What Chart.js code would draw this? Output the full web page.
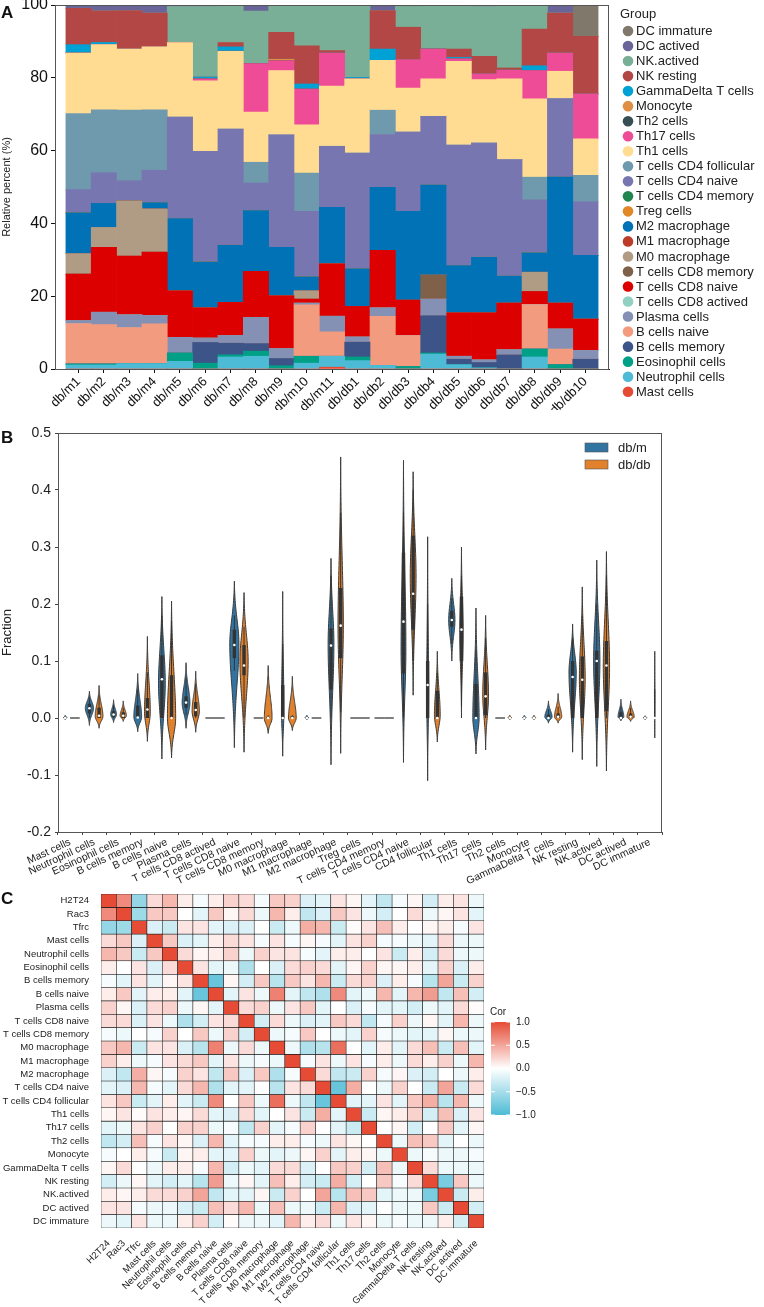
<!DOCTYPE html>
<html>
<head>
<meta charset="utf-8">
<script src="https://cdn.jsdelivr.net/npm/chart.js@4.4.1/dist/chart.umd.min.js"></script>
<style>
  body { margin: 0; background: #fff; width: 764px; height: 1307px; position: relative; overflow: hidden; font-family: "Liberation Sans", Arial, sans-serif; }
  canvas { position: absolute; left: 0; }
  .tag { position: absolute; left: 1px; font-weight: bold; font-size: 17px; color: #111; z-index: 5; }
</style>
</head>
<body>
<div class="tag" style="top:3px">A</div>
<div class="tag" style="top:428px">B</div>
<div class="tag" style="top:889px">C</div>
<canvas id="chartA" width="764" height="410" style="top:0;width:764px;height:410px"></canvas>
<canvas id="chartB" width="764" height="500" style="top:400px;width:764px;height:500px"></canvas>
<canvas id="chartC" width="764" height="427" style="top:880px;width:764px;height:427px"></canvas>
<script>
Chart.defaults.font.family = '"Liberation Sans", Arial, sans-serif';
Chart.defaults.color = '#1a1a1a';

// ---------- panel A: relative percent per sample ----------
const samples = ['db/m1', 'db/m2', 'db/m3', 'db/m4', 'db/m5', 'db/m6', 'db/m7', 'db/m8', 'db/m9', 'db/m10', 'db/m11',
  'db/db1', 'db/db2', 'db/db3', 'db/db4', 'db/db5', 'db/db6', 'db/db7', 'db/db8', 'db/db9', 'db/db10'];

// stacking order, bottom to top
const groupNames = ['Mast cells', 'Neutrophil cells', 'Eosinophil cells', 'B cells memory', 'B cells naive', 'Plasma cells',
  'T cells CD8 actived', 'T cells CD8 naive', 'T cells CD8 memory', 'M0 macrophage', 'M1 macrophage', 'M2 macrophage',
  'Treg cells', 'T cells CD4 memory', 'T cells CD4 naive', 'T cells CD4 follicular', 'Th1 cells', 'Th17 cells', 'Th2 cells',
  'Monocyte', 'GammaDelta T cells', 'NK resting', 'NK.actived', 'DC actived', 'DC immature'];
const groupColors = ['#E64B35', '#4DBBD5', '#00A087', '#3C5488', '#F39B7F', '#8491B4', '#91D1C2', '#DC0000', '#7E6148',
  '#B09C85', '#BC3C29', '#0072B5', '#E18727', '#20854E', '#7876B1', '#6F99AD', '#FFDC91', '#EE4C97', '#374E55',
  '#DF8F44', '#00A1D5', '#B24745', '#79AF97', '#6A6599', '#80796B'];

const mast       = [0, 0, 0, 0, 0, 0, 0, 0, 0, 0, 0.5, 0, 0, 0, 0, 0, 0, 0, 0, 0, 0];
const neutrophil = [1.1, 1.1, 1.5, 1.5, 2.1, 0, 3.3, 3.5, 0, 1.6, 3.0, 2.3, 1.0, 0, 4.1, 1.2, 0.3, 0, 3.3, 0, 0];
const eosinophil = [0.3, 0.3, 0, 0, 2.3, 1.6, 0.6, 1.4, 0.9, 1.9, 0, 1.0, 0, 0.7, 0.3, 0, 0, 0, 2.2, 1.2, 0];
const bMemory    = [0, 0, 0, 0, 0, 5.7, 3.2, 2.1, 2.0, 0, 0, 4.1, 0, 0, 10.3, 1.5, 1.5, 3.9, 0, 0, 2.7];
const bNaive     = [11.1, 10.8, 9.9, 10.9, 0, 0, 0, 0, 0, 14.1, 6.7, 0, 13.5, 8.5, 0, 0, 0, 0, 12.2, 4.3, 0];
const plasma     = [0.8, 3.4, 3.5, 2.3, 4.3, 1.2, 2.1, 7.2, 2.7, 0.5, 4.3, 1.4, 2.3, 0, 4.5, 0.8, 0.7, 1.4, 0, 5.5, 2.4];
const cd8Actived = [0, 0, 0, 0, 0, 0, 0, 0, 0, 0, 0, 0, 0, 0, 0, 0, 0, 0, 0, 0, 0];
const cd8Naive   = [12.8, 17.8, 16.1, 17.4, 12.8, 8.3, 9.1, 12.6, 14.5, 1.1, 14.4, 8.4, 15.8, 9.7, 0, 11.9, 12.9, 12.8, 3.6, 7.1, 8.6];
const cd8Memory  = [0, 0, 0, 0, 0, 0, 0, 0, 0, 0, 0, 0, 0, 0, 6.6, 0, 0, 0, 0, 0, 0];
const m0         = [5.6, 5.5, 15.2, 11.9, 0, 0, 0, 0, 0, 2.3, 0, 0, 0, 0, 0, 0, 0, 0, 5.3, 0, 0];
const m1         = [0, 0, 0, 0, 0, 0, 0, 0, 0, 0, 0, 0, 0, 0, 0, 0, 0, 0, 0, 0, 0];
const m2         = [11.2, 6.6, 0, 1.7, 19.8, 12.6, 15.7, 16.7, 13.3, 3.8, 15.5, 10.3, 17.3, 24.4, 24.7, 13.0, 15.3, 7.4, 5.3, 34.6, 17.5];
const treg       = [0, 0, 0, 0, 0, 0, 0, 0, 0, 0, 0, 0, 0, 0, 0, 0, 0, 0, 0, 0, 0];
const cd4Memory  = [0, 0, 0, 0, 0, 0, 0, 0, 0, 0, 0, 0, 0, 0, 0, 0, 0, 0, 0, 0, 0];
const cd4Naive   = [6.4, 8.4, 5.5, 8.9, 27.9, 30.4, 31.9, 7.6, 30.9, 18.0, 16.8, 31.8, 14.5, 21.8, 18.9, 33.1, 31.4, 32.0, 14.6, 21.6, 14.7];
const cd4Foll    = [20.9, 17.3, 19.4, 16.6, 0, 0, 0, 5.7, 0, 10.5, 0, 0, 6.7, 0, 0, 0, 0, 0, 6.2, 0, 7.3];
const th1        = [16.6, 17.9, 16.8, 17.3, 20.5, 19.4, 21.4, 13.8, 17.7, 13.3, 16.5, 20.4, 13.7, 12.1, 10.3, 23.0, 17.4, 22.2, 21.5, 7.5, 10.0];
const th17       = [0, 0, 0, 0, 0, 0.5, 0, 13.3, 2.7, 9.8, 9.1, 0, 0, 7.8, 8.2, 0.7, 1.6, 2.4, 7.8, 5.0, 12.4];
const th2        = [0, 0, 0, 0, 0, 0, 0, 0, 0, 0, 0, 0, 0, 0, 0, 0, 0, 0, 0, 0, 0];
const monocyte   = [0, 0, 0, 0, 0, 0, 0, 0, 0.4, 0, 0, 0, 0, 0, 0, 0, 0, 0, 0, 0, 0];
const gammaDelta = [2.3, 0.6, 0, 0, 0, 0.5, 1.2, 0, 0, 1.4, 0, 0.4, 3.1, 0, 0, 0.4, 0, 0, 1.3, 0, 0];
const nkResting  = [10.0, 8.7, 10.6, 9.3, 0, 0, 1.2, 0, 7.4, 10.5, 0.7, 0, 10.6, 8.9, 0, 2.3, 4.8, 0.6, 10.1, 11.0, 15.8];
const nkActived  = [0, 0, 0, 0, 9.9, 19.4, 10.3, 14.4, 7.5, 11.2, 12.5, 19.9, 0, 5.7, 12.1, 12.1, 13.7, 17.3, 6.6, 0, 0];
const dcActived  = [0.9, 1.6, 1.5, 2.2, 0.4, 0.4, 0, 1.7, 0, 0, 0, 0, 1.5, 0.4, 0, 0, 0.4, 0, 0, 2.2, 0];
const dcImmature = [0, 0, 0, 0, 0, 0, 0, 0, 0, 0, 0, 0, 0, 0, 0, 0, 0, 0, 0, 0, 8.6];

const groupValues = [mast, neutrophil, eosinophil, bMemory, bNaive, plasma, cd8Actived, cd8Naive, cd8Memory, m0, m1, m2,
  treg, cd4Memory, cd4Naive, cd4Foll, th1, th17, th2, monocyte, gammaDelta, nkResting, nkActived, dcActived, dcImmature];

// ---------- panel B: fraction per cell type ----------
const cellTypes = ['Mast cells', 'Neutrophil cells', 'Eosinophil cells', 'B cells memory', 'B cells naive', 'Plasma cells',
  'T cells CD8 actived', 'T cells CD8 naive', 'T cells CD8 memory', 'M0 macrophage', 'M1 macrophage', 'M2 macrophage',
  'Treg cells', 'T cells CD4 memory', 'T cells CD4 naive', 'CD4 follicular', 'Th1 cells', 'Th17 cells', 'Th2 cells',
  'Monocyte', 'GammaDelta T cells', 'NK resting', 'NK.actived', 'DC actived', 'DC immature'];
// each row: [violin min, whisker low, q1, median, q3, whisker high, violin max, widest value, relative width]
const dbmViolin = [
  [-0.003, 0, 0, 0, 0, 0.001, 0.005, 0.0005, 0.35],
  [-0.013, 0, 0.008, 0.017, 0.025, 0.036, 0.047, 0.017, 0.85],
  [-0.008, 0, 0.002, 0.006, 0.012, 0.022, 0.032, 0.006, 0.6],
  [-0.024, 0, 0, 0.001, 0.022, 0.05, 0.078, 0.002, 0.8],
  [-0.072, 0, 0, 0.068, 0.11, 0.18, 0.213, 0.06, 0.7],
  [-0.018, 0.005, 0.018, 0.027, 0.038, 0.07, 0.097, 0.026, 0.8],
  [0, 0, 0, 0, 0, 0, 0, 0, 1],
  [-0.052, 0.083, 0.105, 0.128, 0.155, 0.18, 0.24, 0.13, 0.95],
  [0, 0, 0, 0, 0, 0, 0, 0, 1],
  [-0.067, 0, 0, 0, 0.058, 0.13, 0.222, 0.01, 0.25],
  [-0.003, 0, 0, 0, 0, 0.001, 0.005, 0.0005, 0.35],
  [-0.082, 0, 0.05, 0.127, 0.157, 0.25, 0.28, 0.13, 0.6],
  [0, 0, 0, 0, 0, 0, 0, 0, 1],
  [0, 0, 0, 0, 0, 0, 0, 0, 1],
  [-0.078, 0, 0.078, 0.169, 0.29, 0.36, 0.452, 0.12, 0.5],
  [-0.11, 0, 0, 0.058, 0.1, 0.2, 0.318, 0.04, 0.2],
  [0.1, 0.13, 0.16, 0.172, 0.188, 0.21, 0.245, 0.172, 0.65],
  [-0.063, 0, 0, 0, 0.06, 0.12, 0.193, 0, 0.65],
  [0, 0, 0, 0, 0, 0, 0, 0, 1],
  [-0.003, 0, 0, 0, 0, 0.001, 0.005, 0.0005, 0.35],
  [-0.009, 0, 0, 0, 0.006, 0.015, 0.03, 0.002, 0.75],
  [-0.06, 0, 0, 0.072, 0.1, 0.14, 0.165, 0.08, 0.75],
  [-0.085, 0, 0, 0.1, 0.118, 0.2, 0.277, 0.1, 0.65],
  [-0.005, 0, 0, 0, 0.01, 0.02, 0.033, 0.002, 0.6],
  [-0.003, 0, 0, 0, 0, 0.001, 0.004, 0.0005, 0.35]
];
const dbdbViolin = [
  [0, 0, 0, 0, 0, 0, 0, 0, 1],
  [-0.018, 0, 0, 0.004, 0.018, 0.04, 0.057, 0.003, 0.8],
  [-0.006, 0, 0, 0.004, 0.01, 0.018, 0.03, 0.004, 0.65],
  [-0.041, 0, 0, 0.015, 0.035, 0.08, 0.143, 0.01, 0.6],
  [-0.07, 0, 0, 0, 0.075, 0.17, 0.205, 0, 0.85],
  [-0.025, 0, 0.003, 0.014, 0.028, 0.06, 0.082, 0.012, 0.75],
  [0, 0, 0, 0, 0, 0, 0, 0, 1],
  [-0.06, 0, 0.075, 0.092, 0.128, 0.16, 0.22, 0.1, 0.85],
  [-0.027, 0, 0, 0, 0.002, 0.005, 0.092, 0, 0.8],
  [-0.022, 0, 0, 0, 0.003, 0.005, 0.073, 0, 0.8],
  [0, 0, 0, 0, 0, 0, 0, 0, 1],
  [-0.062, 0.01, 0.105, 0.162, 0.228, 0.36, 0.458, 0.16, 0.55],
  [0, 0, 0, 0, 0, 0, 0, 0, 1],
  [0, 0, 0, 0, 0, 0, 0, 0, 1],
  [0.04, 0.1, 0.155, 0.218, 0.32, 0.4, 0.432, 0.25, 0.6],
  [-0.042, 0, 0, 0, 0.048, 0.08, 0.117, 0.005, 0.6],
  [0, 0.02, 0.1, 0.155, 0.213, 0.25, 0.3, 0.15, 0.35],
  [-0.056, 0, 0.005, 0.038, 0.08, 0.14, 0.18, 0.04, 0.6],
  [-0.003, 0, 0, 0, 0, 0.001, 0.005, 0.0005, 0.35],
  [-0.003, 0, 0, 0, 0, 0.001, 0.005, 0.0005, 0.35],
  [-0.009, 0, 0, 0.002, 0.008, 0.02, 0.043, 0.002, 0.75],
  [-0.073, 0, 0, 0.067, 0.108, 0.18, 0.23, 0.07, 0.6],
  [-0.093, 0, 0.012, 0.092, 0.135, 0.25, 0.292, 0.09, 0.65],
  [-0.006, 0, 0, 0.002, 0.008, 0.018, 0.03, 0.002, 0.75],
  [-0.035, 0, 0, 0, 0, 0.05, 0.117, 0.04, 0.06]
];
const violinGroups = ['db/m', 'db/db'];
const violinColors = ['#3274A1', '#E1812C'];

// ---------- panel C: correlation heatmap ----------
const heatLabels = ['H2T24', 'Rac3', 'Tfrc', 'Mast cells', 'Neutrophil cells', 'Eosinophil cells', 'B cells memory',
  'B cells naive', 'Plasma cells', 'T cells CD8 naive', 'T cells CD8 memory', 'M0 macrophage', 'M1 macrophage',
  'M2 macrophage', 'T cells CD4 naive', 'T cells CD4 follicular', 'Th1 cells', 'Th17 cells', 'Th2 cells', 'Monocyte',
  'GammaDelta T cells', 'NK resting', 'NK.actived', 'DC actived', 'DC immature'];
// lower triangle, row r holds columns 0..r-1
const corLower = [
  [],
  [0.65],
  [-0.6, -0.55],
  [0.2, 0.3, -0.2],
  [0.4, 0.3, -0.3, 0.3],
  [0.1, 0, 0.15, -0.2, 0.2],
  [-0.05, -0.15, 0.15, -0.15, 0.05, 0.15],
  [0.1, 0.3, -0.15, 0.1, 0.1, -0.15, -0.85],
  [0.25, 0.05, -0.2, 0.2, 0.25, -0.1, 0.05, -0.15],
  [0.2, 0.2, -0.2, 0.15, -0.1, -0.45, -0.25, 0.15, 0.2],
  [-0.05, -0.1, 0, -0.05, 0.25, 0, 0.3, -0.1, 0.25, -0.25],
  [0.3, 0.4, -0.3, 0.15, 0.15, -0.2, -0.4, 0.7, -0.1, 0.2, -0.1],
  [0.25, 0.1, -0.1, -0.05, 0.15, 0.2, 0.3, -0.15, 0.15, -0.1, -0.05, -0.1],
  [-0.2, -0.35, 0.45, 0.05, -0.05, 0.25, 0.15, -0.35, 0.3, -0.2, 0.3, -0.45, -0.05],
  [-0.15, -0.2, 0.4, -0.05, -0.15, 0.2, 0.4, -0.45, -0.15, -0.15, 0, -0.4, 0.15, 0.2],
  [0.15, 0.3, -0.3, -0.15, 0.1, -0.15, -0.3, 0.65, 0, 0.3, -0.1, 0.8, -0.1, -0.35, -0.85],
  [0.05, 0.15, 0.02, 0.15, 0.1, 0.05, 0.2, -0.15, -0.2, 0.2, -0.15, 0, 0.15, -0.3, 0.45, -0.15],
  [-0.15, -0.1, 0.15, 0.25, 0, 0.25, 0.25, -0.1, -0.05, -0.35, 0.25, -0.15, -0.05, 0.25, 0, -0.15, -0.3],
  [-0.35, -0.25, 0.35, -0.05, 0.15, 0.05, -0.2, 0.4, -0.15, -0.05, -0.05, 0.1, 0.1, -0.05, -0.1, 0.15, 0.05, 0],
  [-0.05, 0, 0.1, -0.05, -0.3, 0.05, 0.1, -0.15, -0.15, 0.25, -0.1, -0.15, -0.1, 0.05, 0.25, -0.15, 0.1, 0.05, -0.1],
  [0.05, 0.2, 0, -0.1, 0.1, 0.1, -0.05, 0.4, -0.25, -0.1, -0.15, 0.2, 0.2, -0.2, 0, 0.3, 0.25, -0.25, 0.35, -0.1],
  [-0.25, -0.1, 0.05, -0.15, -0.25, -0.15, -0.4, 0.55, -0.1, 0.05, -0.15, 0.35, 0.1, -0.25, -0.3, 0.45, -0.25, 0, 0.3, -0.05, 0.2],
  [0.1, 0.05, 0.1, 0.2, 0.2, 0.25, 0.5, -0.35, -0.15, -0.15, 0.05, -0.3, 0.25, 0, 0.5, -0.4, 0.35, 0.3, -0.15, -0.1, -0.1, -0.75],
  [0.15, 0.15, -0.05, -0.1, -0.1, -0.2, -0.3, 0.35, 0.2, 0.4, -0.1, 0.35, -0.1, -0.1, -0.3, 0.4, -0.2, -0.15, 0, -0.1, -0.1, 0.3, -0.3],
  [-0.1, -0.15, 0.15, -0.1, -0.1, 0.1, 0.25, -0.25, 0.02, -0.1, -0.1, -0.15, 0.4, 0.1, 0.2, -0.1, 0.15, 0.05, -0.1, -0.05, -0.1, -0.1, 0.1, -0.25]
];
const corTicks = [1, 0.5, 0, -0.5, -1];

// ---------- helpers ----------
function corAt(r, c) {
  if (r === c) return 1;
  return r > c ? corLower[r][c] : corLower[c][r];
}
function corColor(v) {
  const t = Math.min(1, Math.abs(v));
  const end = v >= 0 ? [230, 75, 53] : [77, 187, 213];
  const c = end.map(e => Math.round(255 + (e - 255) * t));
  return 'rgb(' + c.join(',') + ')';
}
function fixBox(w, h) {
  return scale => {
    if (w != null) scale.width = w;
    if (h != null) scale.height = h;
    scale.paddingTop = 0; scale.paddingBottom = 0; scale.paddingLeft = 0; scale.paddingRight = 0;
  };
}
const frame = {
  id: 'frame',
  afterDraw(chart, args, opts) {
    const a = chart.chartArea, ctx = chart.ctx;
    ctx.save();
    ctx.strokeStyle = opts.color || '#444';
    ctx.lineWidth = 1;
    ctx.strokeRect(Math.round(a.left) + 0.5, Math.round(a.top) + 0.5, Math.round(a.right - a.left) - 1, Math.round(a.bottom - a.top));
    ctx.restore();
  }
};

// ---------- chart A ----------
const groupLegend = {
  id: 'groupLegend',
  afterDraw(chart) {
    const ctx = chart.ctx;
    ctx.save();
    ctx.font = '13px "Liberation Sans", Arial, sans-serif';
    ctx.textBaseline = 'middle';
    ctx.fillStyle = '#222';
    ctx.fillText('Group', 620, 14);
    chart.data.datasets.slice().reverse().forEach((d, i) => {
      const y = 31 + i * 15.03;
      ctx.beginPath();
      ctx.arc(628, y, 5.3, 0, Math.PI * 2);
      ctx.fillStyle = d.backgroundColor;
      ctx.fill();
      ctx.fillStyle = '#222';
      ctx.fillText(d.label, 636, y + 0.5);
    });
    ctx.restore();
  }
};

new Chart(document.getElementById('chartA'), {
  type: 'bar',
  data: {
    datasets: groupNames.map((name, i) => ({
      label: name,
      data: groupValues[i].map((v, j) => ({ x: j + 1, y: v })),
      backgroundColor: groupColors[i],
      borderWidth: 0,
      barPercentage: 1,
      categoryPercentage: 1
    }))
  },
  options: {
    responsive: false,
    animation: false,
    layout: { padding: { left: 0, top: 5, right: 155, bottom: 0 } },
    plugins: { legend: { display: false }, tooltip: { enabled: false }, frame: { color: '#555' } },
    scales: {
      x: {
        type: 'linear', stacked: true, min: 0.07, max: 21.93, offset: false,
        afterBuildTicks: s => { s.ticks = samples.map((_, i) => ({ value: i + 1 })); },
        afterFit: fixBox(null, 41),
        ticks: { autoSkip: false, minRotation: 45, maxRotation: 45, padding: 1, color: '#111',
          font: { size: 13 }, callback: (v, i) => samples[i] },
        grid: { display: true, offset: false, drawOnChartArea: false, tickLength: 4, color: '#111' },
        border: { color: '#111', width: 1 }
      },
      y: {
        stacked: true, min: 0, max: 100,
        afterFit: fixBox(55, null),
        ticks: { stepSize: 20, color: '#111', padding: 3, font: { size: 16, lineHeight: 0.8 } },
        grid: { display: true, drawOnChartArea: false, tickLength: 4, color: '#111' },
        border: { color: '#111', width: 1 },
        title: { display: true, text: 'Relative percent (%)', color: '#222', font: { size: 11 }, padding: { top: 0, bottom: 2 } }
      }
    }
  },
  plugins: [frame, groupLegend]
});

// ---------- chart B ----------
const violinPlugin = {
  id: 'violins',
  afterDatasetsDraw(chart) {
    const ctx = chart.ctx, ys = chart.scales.y;
    const stats = [dbmViolin, dbdbViolin];
    ctx.save();
    chart.data.datasets.forEach((ds, di) => {
      const meta = chart.getDatasetMeta(di);
      meta.data.forEach((bar, i) => {
        const s = stats[di][i];
        const [vMin, wLo, q1, med, q3, wHi, vMax, peak, rel] = s;
        const cx = bar.x, half = bar.width / 2;
        ctx.strokeStyle = '#3b3b3b';
        if (vMin === vMax) {
          ctx.lineWidth = 1.3;
          ctx.beginPath();
          ctx.moveTo(cx - half, ys.getPixelForValue(vMin));
          ctx.lineTo(cx + half, ys.getPixelForValue(vMin));
          ctx.stroke();
          return;
        }
        const W = half * rel;
        const cut = 2.6, g0 = Math.exp(-0.5 * cut * cut);
        const hw = v => {
          const d = v - peak;
          const span = d < 0 ? peak - vMin : vMax - peak;
          if (span <= 0) return W;
          const z = d / (span / cut);
          return W * Math.max(0, (Math.exp(-0.5 * z * z) - g0) / (1 - g0));
        };
        const n = 60, pts = [];
        for (let k = 0; k <= n; k++) {
          const v = vMin + (vMax - vMin) * k / n;
          pts.push([ys.getPixelForValue(v), hw(v)]);
        }
        ctx.beginPath();
        pts.forEach(([py, w], k) => k ? ctx.lineTo(cx + w, py) : ctx.moveTo(cx + w, py));
        for (let k = pts.length - 1; k >= 0; k--) ctx.lineTo(cx - pts[k][1], pts[k][0]);
        ctx.closePath();
        ctx.fillStyle = violinColors[di];
        ctx.fill();
        ctx.lineWidth = 1;
        ctx.stroke();
        // inner box
        ctx.strokeStyle = '#333';
        ctx.lineWidth = 1;
        ctx.beginPath();
        ctx.moveTo(cx, ys.getPixelForValue(wHi));
        ctx.lineTo(cx, ys.getPixelForValue(wLo));
        ctx.stroke();
        if (q3 > q1) {
          ctx.fillStyle = '#333';
          const t = ys.getPixelForValue(q3), b = ys.getPixelForValue(q1);
          ctx.fillRect(cx - 1.7, t, 3.4, b - t);
        }
        ctx.fillStyle = '#fff';
        ctx.beginPath();
        ctx.arc(cx, ys.getPixelForValue(med), 1.3, 0, Math.PI * 2);
        ctx.fill();
      });
    });
    ctx.restore();
  }
};
const violinLegend = {
  id: 'violinLegend',
  afterDraw(chart) {
    const ctx = chart.ctx;
    ctx.save();
    ctx.font = '13px "Liberation Sans", Arial, sans-serif';
    ctx.textBaseline = 'middle';
    violinGroups.forEach((g, i) => {
      const y = 43 + i * 17;
      ctx.fillStyle = violinColors[i];
      ctx.fillRect(585, y, 23, 9);
      ctx.strokeStyle = '#555';
      ctx.lineWidth = 0.6;
      ctx.strokeRect(585, y, 23, 9);
      ctx.fillStyle = '#222';
      ctx.fillText(g, 618, y + 5);
    });
    ctx.restore();
  }
};

new Chart(document.getElementById('chartB'), {
  type: 'bar',
  data: {
    labels: cellTypes,
    datasets: [dbmViolin, dbdbViolin].map((st, di) => ({
      label: violinGroups[di],
      data: st.map(s => [s[0], s[6]]),
      backgroundColor: 'rgba(0,0,0,0)',
      borderWidth: 0,
      barPercentage: 1,
      categoryPercentage: 0.8
    }))
  },
  options: {
    responsive: false,
    animation: false,
    layout: { padding: { left: 0, top: 33, right: 102, bottom: 0 } },
    plugins: { legend: { display: false }, tooltip: { enabled: false }, frame: { color: '#555' } },
    scales: {
      x: {
        afterFit: fixBox(null, 68),
        ticks: { autoSkip: false, minRotation: 25, maxRotation: 25, padding: 1, color: '#222', font: { size: 10.5 } },
        grid: { display: true, drawOnChartArea: false, tickLength: 3, color: '#444' },
        border: { color: '#555' }
      },
      y: {
        min: -0.2, max: 0.5,
        afterFit: fixBox(58, null),
        ticks: { stepSize: 0.1, color: '#222', padding: 4, font: { size: 14, lineHeight: 0.8 },
          callback: v => (Math.round(v * 10) / 10).toFixed(1) },
        grid: { display: true, drawOnChartArea: false, tickLength: 3, color: '#444' },
        border: { color: '#555' },
        title: { display: true, text: 'Fraction', color: '#222', font: { size: 13 }, padding: { top: 0, bottom: 4 } }
      }
    }
  },
  plugins: [frame, violinPlugin, violinLegend]
});

// ---------- chart C ----------
const colorBar = {
  id: 'colorBar',
  afterDraw(chart) {
    const ctx = chart.ctx;
    const x = 491, top = 142, h = 93, w = 19;
    ctx.save();
    const grad = ctx.createLinearGradient(0, top, 0, top + h);
    grad.addColorStop(0, corColor(1));
    grad.addColorStop(0.5, corColor(0));
    grad.addColorStop(1, corColor(-1));
    ctx.fillStyle = grad;
    ctx.fillRect(x, top, w, h);
    ctx.font = '10px "Liberation Sans", Arial, sans-serif';
    ctx.fillStyle = '#222';
    ctx.textBaseline = 'middle';
    ctx.fillText('Cor', 490, top - 10);
    corTicks.forEach(t => {
      const y = top + (1 - t) / 2 * h;
      ctx.strokeStyle = '#fff';
      ctx.lineWidth = 1;
      ctx.beginPath();
      ctx.moveTo(x, y); ctx.lineTo(x + 4, y);
      ctx.moveTo(x + w - 4, y); ctx.lineTo(x + w, y);
      ctx.stroke();
      ctx.fillStyle = '#222';
      ctx.fillText(t === 0 ? '0.0' : (t < 0 ? '\u2212' : '') + Math.abs(t).toFixed(1), x + w + 6, y);
    });
    ctx.restore();
  }
};

new Chart(document.getElementById('chartC'), {
  type: 'bar',
  data: {
    labels: heatLabels,
    datasets: heatLabels.map((rowName, r) => ({
      label: rowName,
      data: heatLabels.map(() => [r, r + 1]),
      backgroundColor: heatLabels.map((_, c) => corColor(corAt(r, c))),
      borderColor: '#1a1a1a',
      borderWidth: 0.6,
      borderSkipped: false,
      grouped: false,
      barPercentage: 1,
      categoryPercentage: 1
    }))
  },
  options: {
    responsive: false,
    animation: false,
    layout: { padding: { left: 0, top: 14, right: 280, bottom: 0 } },
    plugins: { legend: { display: false }, tooltip: { enabled: false } },
    scales: {
      x: {
        afterFit: fixBox(null, 79),
        ticks: { autoSkip: false, minRotation: 45, maxRotation: 45, padding: 2, color: '#222', font: { size: 9.5 } },
        grid: { display: false },
        border: { display: false }
      },
      y: {
        type: 'linear', reverse: true, min: 0, max: 25,
        afterFit: fixBox(101, null),
        afterBuildTicks: s => { s.ticks = heatLabels.map((_, r) => ({ value: r + 0.5 })); },
        ticks: { autoSkip: false, padding: 4, color: '#222', font: { size: 9.5, lineHeight: 0.8 },
          callback: (v, i) => heatLabels[i] },
        grid: { display: false },
        border: { display: false }
      }
    }
  },
  plugins: [colorBar]
});
</script>
</body>
</html>
